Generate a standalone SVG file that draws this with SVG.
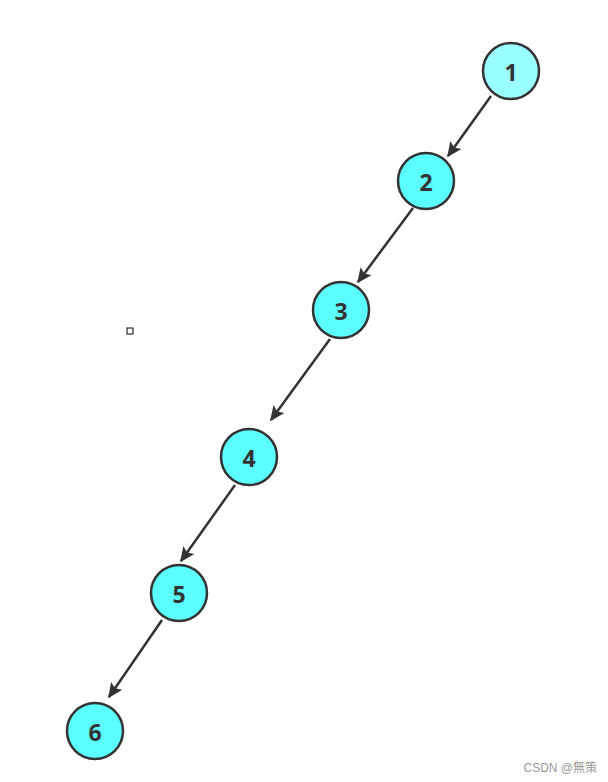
<svg xmlns="http://www.w3.org/2000/svg" width="608" height="782" viewBox="0 0 608 782">
<defs>
<marker id="ah" viewBox="0 0 10 10" refX="9" refY="5" markerWidth="6" markerHeight="6" orient="auto" markerUnits="strokeWidth">
<path d="M0,0.5 L10,5 L0,9.5 L2,5 Z" fill="#333"/>
</marker>
</defs>
<style>
.n circle{stroke:#333;stroke-width:2.5;fill:#5cffff}
.n text{font-family:"Open Sans","Noto Sans",sans-serif;font-weight:bold;font-size:23px;fill:#333;text-anchor:middle;dominant-baseline:central}
.e line{stroke:#333;stroke-width:2.5;marker-end:url(#ah)}
</style>
<rect width="608" height="782" fill="#fff"/>
<g id="connectors" class="e">
<line x1="491" y1="96" x2="448" y2="156"/>
<line x1="413" y1="208" x2="358" y2="282"/>
<line x1="330" y1="339" x2="271" y2="420"/>
<line x1="235" y1="485" x2="181" y2="561"/>
<line x1="162" y1="620" x2="109" y2="697"/>
</g>
<g id="node1" class="n"><circle cx="511" cy="71" r="28" style="fill:#99ffff"/><text x="511" y="72">1</text></g>
<g id="node2" class="n"><circle cx="426" cy="181" r="28"/><text x="426" y="182">2</text></g>
<g id="node3" class="n"><circle cx="341" cy="310" r="28"/><text x="341" y="311">3</text></g>
<g id="node4" class="n"><circle cx="249" cy="457" r="28"/><text x="249" y="458">4</text></g>
<g id="node5" class="n"><circle cx="179" cy="593" r="28"/><text x="179" y="594">5</text></g>
<g id="node6" class="n"><circle cx="95" cy="731" r="28"/><text x="95" y="732">6</text></g>
<rect x="127" y="328" width="6" height="6" fill="none" stroke="#000" stroke-width="1"/>
<text x="597" y="772" text-anchor="end" font-family="Liberation Sans,'Noto Sans CJK SC',sans-serif" font-size="12" fill="#999">CSDN @無策</text>
</svg>
